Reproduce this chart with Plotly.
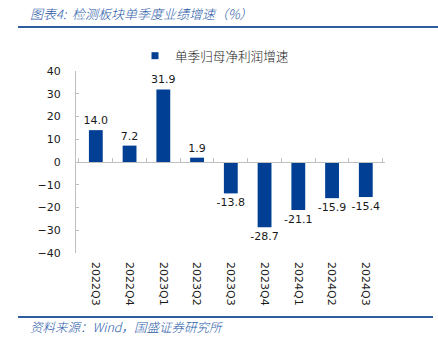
import plotly.graph_objects as go

categories = ["2022Q3", "2022Q4", "2023Q1", "2023Q2", "2023Q3", "2023Q4", "2024Q1", "2024Q2", "2024Q3"]
growth = [14.0, 7.2, 31.9, 1.9, -13.8, -28.7, -21.1, -15.9, -15.4]
series_name = "单季归母净利润增速"
y_ticks = [40, 30, 20, 10, 0, -10, -20, -30, -40]

BAR = "#003F93"
LINE = "#2E5C9E"
W, H = 438, 348
L, R, T, B = 76, 385, 71, 253
pw, ph = R - L, B - T


def px(x):
    return (x - L) / pw


def py(y):
    return (B - y) / ph


fig = go.Figure()
fig.add_trace(go.Bar(
    x=categories, y=growth, marker=dict(color=BAR, line=dict(width=0)),
    width=0.41, text=[f"{v:.1f}" for v in growth], textposition="outside",
    constraintext="none",
    textfont=dict(family="DejaVu Sans", size=11, color="#1a1a1a"),
    cliponaxis=False, showlegend=False, name=series_name,
))
# legend entry
fig.add_trace(go.Scatter(
    x=[categories[0]], y=[None], mode="markers", name=series_name,
    marker=dict(symbol="square", size=7, color=BAR),
))
# zero-line axis with boundary ticks
fig.add_trace(go.Scatter(
    x=categories, y=[None] * len(categories), mode="markers", xaxis="x2",
    showlegend=False, hoverinfo="skip",
))

fig.update_layout(
    width=W, height=H,
    margin=dict(l=L, r=W - R, t=T, b=H - B),
    paper_bgcolor="white", plot_bgcolor="white",
    font=dict(family="DejaVu Sans", size=11, color="#1a1a1a"),
    xaxis=dict(
        type="category", categoryorder="array", categoryarray=categories,
        showline=False, showgrid=False, zeroline=False, ticks="",
        tickangle=90, ticklabelstandoff=8,
        tickfont=dict(family="DejaVu Sans", size=11, color="#1a1a1a"),
    ),
    xaxis2=dict(
        type="category", categoryorder="array", categoryarray=categories,
        overlaying="x", anchor="free", position=0.5, side="bottom",
        showline=True, linecolor="#BFBFBF", linewidth=1,
        ticks="inside", tickson="boundaries", ticklen=4, tickcolor="#BFBFBF",
        showticklabels=False, showgrid=False, zeroline=False,
        matches="x",
    ),
    yaxis=dict(
        range=[-40, 40], tickvals=y_ticks, showgrid=False, zeroline=False,
        showline=True, linecolor="#BFBFBF", linewidth=1,
        ticks="inside", ticklen=3, tickcolor="#BFBFBF",
        ticklabelstandoff=12,
        tickfont=dict(family="DejaVu Sans", size=11, color="#1a1a1a"),
    ),
    bargap=0.59,
    legend=dict(
        orientation="h", x=px(135), xanchor="left", y=py(56), yanchor="middle",
        font=dict(family="Noto Sans CJK SC", size=12.6, color="#1a1a1a", weight=300),
        bgcolor="rgba(0,0,0,0)",
    ),
    shapes=[
        dict(type="line", xref="paper", yref="paper", x0=px(18), x1=px(438),
             y0=py(27), y1=py(27), line=dict(color=LINE, width=2)),
        dict(type="line", xref="paper", yref="paper", x0=px(18), x1=px(433),
             y0=py(317), y1=py(317), line=dict(color=LINE, width=2)),
    ],
    annotations=[
        dict(text="<i>图表4:  检测板块单季度业绩增速（%）</i>", xref="paper", yref="paper",
             x=px(28), y=py(13), xanchor="left", yanchor="middle", showarrow=False,
             font=dict(family="Noto Sans CJK SC", size=13, color="#2A5AA8", weight=300)),
        dict(text="<i>资料来源：Wind，国盛证券研究所</i>", xref="paper", yref="paper",
             x=px(28), y=py(326), xanchor="left", yanchor="middle", showarrow=False,
             font=dict(family="Noto Sans CJK SC", size=12.5, color="#2A5AA8", weight=300)),
    ],
)

fig.write_html("out.html")
